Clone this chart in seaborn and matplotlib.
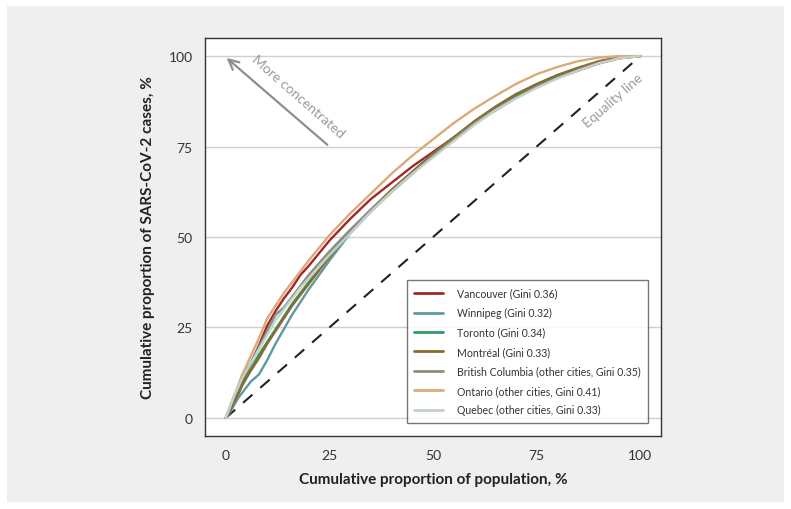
import pandas as pd
import matplotlib
matplotlib.use("Agg")
import matplotlib.pyplot as plt
import seaborn as sns
from matplotlib.patches import Rectangle

# cumulative proportion of population (%)
pop_pct = [0, 1, 2, 3, 4, 5, 6, 8, 10, 12, 14, 16, 18, 20, 25, 30, 35, 40, 45, 50,
           55, 60, 65, 70, 75, 80, 85, 90, 95, 100]

# cumulative proportion of cases (%)
vancouver = [0, 2.5, 5, 7.5, 10, 12.5, 15, 20, 25.5, 29.5, 33, 36, 39.5, 42, 49, 55, 60.5, 65, 69.5, 73.5,
             77.5, 81.5, 85, 88.5, 91.5, 94, 96, 98, 99.4, 100]
winnipeg = [0, 1.5, 3.5, 5.5, 7, 8.5, 10, 12, 16, 20.5, 24.5, 28.5, 32, 35.5, 43.5, 51, 57, 62.5, 67.5, 72.5,
            77, 81.5, 85, 88.5, 91.5, 94, 96.3, 98.3, 99.5, 100]
toronto = [0, 2.5, 5, 7, 9.5, 11.5, 13.5, 17.5, 21, 24.5, 28, 31.5, 34.5, 37.5, 45, 51.5, 57.5, 63, 68, 73,
           77.5, 82, 85.8, 89.2, 92, 94.5, 96.6, 98.4, 99.6, 100]
montreal = [0, 2, 4.5, 6.5, 9, 11, 13, 16.5, 20.5, 24, 27.5, 31, 34, 37, 44.5, 51.5, 57.5, 63, 68, 73,
            77.5, 82, 86, 89.5, 92.3, 94.8, 96.8, 98.6, 99.7, 100]
bc_other = [0, 3, 6, 8.5, 12, 13.5, 15, 19.5, 24, 28.5, 30.5, 33.5, 36.5, 39.5, 46, 52, 57.5, 62.5, 67.5, 72.5,
            77, 81.5, 85.2, 88.5, 91.5, 94, 96.2, 98.2, 99.5, 100]
ontario_other = [0, 3, 6, 9, 12, 14.5, 17, 22, 27.5, 31, 34.5, 37.5, 40.5, 43.5, 50.5, 56.5, 62, 67.5, 72.5, 77,
                 81.5, 85.5, 89, 92.3, 95, 97, 98.6, 99.6, 100, 100]
quebec_other = [0, 3, 6, 8.5, 11, 13, 15, 19, 23, 27, 30, 33, 36, 38.5, 45, 51, 57, 62.5, 67.5, 72,
                76.5, 81, 85, 88.3, 91.2, 93.8, 96, 98, 99.4, 100]

labels = [
    "Vancouver (Gini 0.36)",
    "Winnipeg (Gini 0.32)",
    "Toronto (Gini 0.34)",
    "Montréal (Gini 0.33)",
    "British Columbia (other cities, Gini 0.35)",
    "Ontario (other cities, Gini 0.41)",
    "Quebec (other cities, Gini 0.33)",
]
colors = ["#a3262b", "#5b9aa5", "#2f9a68", "#8d6a2b", "#8e8e80", "#dbaa78", "#c3d3cb"]
ticks = [0, 25, 50, 75, 100]

series = [vancouver, winnipeg, toronto, montreal, bc_other, ontario_other, quebec_other]
df = pd.concat(
    [pd.DataFrame({"pop": pop_pct, "cases": vals, "group": lab}) for lab, vals in zip(labels, series)],
    ignore_index=True,
)

sns.set_style("white")
plt.rcParams["font.family"] = ["Lato", "DejaVu Sans"]

fig = plt.figure(figsize=(7.91, 5.10), dpi=100)
fig.patch.set_facecolor("white")
fig.patches.append(Rectangle((0.0089, 0.0137), 0.9823, 0.9725, transform=fig.transFigure,
                             facecolor="#eeefee", edgecolor="none", zorder=-10))
ax = fig.add_axes([0.2592, 0.1431, 0.5765, 0.7804])
ax.set_facecolor("white")

for y in ticks:
    ax.axhline(y, color="#cfcfcf", lw=1, zorder=0)

# equality line
ax.plot([0, 100], [0, 100], color="#222222", lw=1.5, linestyle=(0, (6, 5)), zorder=1)

sns.lineplot(data=df, x="pop", y="cases", hue="group", hue_order=labels,
             palette=dict(zip(labels, colors)), sort=False, lw=1.7, ax=ax, zorder=3)

ax.set_xlim(-5, 105)
ax.set_ylim(-5, 105)
ax.set_xticks(ticks)
ax.set_yticks(ticks)
ax.tick_params(axis="both", direction="out", length=5, width=1, color="#333333",
               labelsize=10, labelcolor="#333333", pad=4)
for s in ax.spines.values():
    s.set_color("#333333")
    s.set_linewidth(1)

ax.set_xlabel("Cumulative proportion of population, %", fontsize=11, fontweight="bold",
              color="#222222", labelpad=8)
ax.set_ylabel("Cumulative proportion of SARS-CoV-2 cases, %", fontsize=11, fontweight="bold",
              color="#222222", labelpad=10)

# annotations
ax.annotate("", xy=(-0.3, 100), xytext=(25, 75),
            arrowprops=dict(arrowstyle="->", color="#8e8e8e", lw=1.6, mutation_scale=18))
ax.text(17.5, 89, "More concentrated", rotation=-41.2, color="#9a9a9a", fontsize=10,
        ha="center", va="center", rotation_mode="anchor")
ax.text(93.5, 88, "Equality line", rotation=41.2, color="#9a9a9a", fontsize=10,
        ha="center", va="center", rotation_mode="anchor")

leg = ax.legend(loc="lower right", bbox_to_anchor=(0.971, 0.033), borderaxespad=0,
                frameon=True, fancybox=False, fontsize=7.6, handlelength=2.7,
                labelspacing=0.8, borderpad=0.7, handletextpad=1.3, edgecolor="#555555")
leg.get_frame().set_linewidth(1)
for line in leg.get_lines():
    line.set_linewidth(2)
for t in leg.get_texts():
    t.set_color("#333333")

fig.savefig("out.png", dpi=100, facecolor=fig.get_facecolor())
